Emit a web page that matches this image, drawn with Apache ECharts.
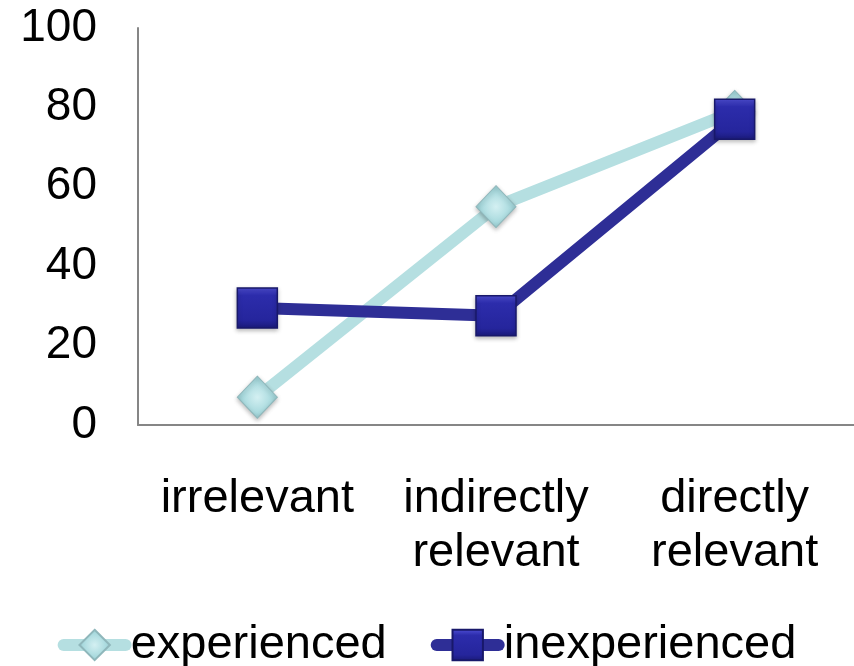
<!DOCTYPE html>
<html>
<head>
<meta charset="utf-8">
<script src="https://cdn.jsdelivr.net/npm/echarts@6/dist/echarts.min.js"></script>
<style>
  html, body { margin: 0; padding: 0; background: #ffffff; }
  #chart { width: 854px; height: 666px; }
</style>
</head>
<body>
<div id="chart"></div>
<script>
// Share of items rated by relevance, by experience level
const categories = ['irrelevant', 'indirectly\nrelevant', 'directly\nrelevant'];
const yTicks = [0, 20, 40, 60, 80, 100];
const experienced = [7, 55, 79];
const inexperienced = [29.5, 27.5, 77];

const FONT = '"Liberation Sans", Arial, sans-serif';

const diamondFill = {
  type: 'radial', x: 0.5, y: 0.5, r: 0.6,
  colorStops: [
    { offset: 0, color: '#d4f0f2' },
    { offset: 0.6, color: '#a9dade' },
    { offset: 1, color: '#86bcc1' }
  ]
};
const squareFill = {
  type: 'linear', x: 0, y: 0, x2: 0, y2: 1,
  colorStops: [
    { offset: 0, color: '#5050d8' },
    { offset: 0.2, color: '#2c2cab' },
    { offset: 0.8, color: '#25259c' },
    { offset: 1, color: '#1a1a78' }
  ]
};

const chart = echarts.init(document.getElementById('chart'), null, { renderer: 'canvas' });
chart.setOption({
  backgroundColor: '#ffffff',
  animation: false,
  grid: { left: 138, right: 0, top: 28, bottom: 241, containLabel: false },
  legend: {
    top: 615,
    left: 'center',
    itemWidth: 62,
    itemHeight: 38,
    itemGap: 44,
    lineStyle: { width: 12, cap: 'round' },
    textStyle: { fontFamily: FONT, fontSize: 47, color: '#000000', lineHeight: 50, padding: [0, 0, 0, 0] },
    data: ['experienced', 'inexperienced']
  },
  xAxis: {
    type: 'category',
    data: categories,
    boundaryGap: true,
    axisLine: { lineStyle: { color: '#868686', width: 2 } },
    axisTick: { show: false },
    axisLabel: { fontFamily: FONT, fontSize: 47, color: '#000000', lineHeight: 54, margin: 47, interval: 0 },
    splitLine: { show: false }
  },
  yAxis: {
    type: 'value',
    min: yTicks[0],
    max: yTicks[yTicks.length - 1],
    interval: yTicks[1] - yTicks[0],
    axisLine: { show: true, lineStyle: { color: '#868686', width: 2 } },
    axisTick: { show: false },
    axisLabel: { fontFamily: FONT, fontSize: 46, color: '#000000', margin: 41, lineHeight: 46, padding: [8, 0, 0, 0] },
    splitLine: { show: false }
  },
  series: [
    {
      name: 'experienced',
      type: 'line',
      data: experienced,
      symbol: 'diamond',
      symbolSize: [40, 42],
      lineStyle: { color: '#b5dfe1', width: 12 },
      itemStyle: {
        color: diamondFill,
        borderColor: '#8fb7bb',
        borderWidth: 1,
        shadowColor: 'rgba(0,0,0,0.25)',
        shadowBlur: 4,
        shadowOffsetY: 2
      },
      z: 2
    },
    {
      name: 'inexperienced',
      type: 'line',
      data: inexperienced,
      symbol: 'rect',
      symbolSize: 40,
      lineStyle: { color: '#2e2e96', width: 12 },
      itemStyle: {
        color: squareFill,
        borderColor: '#18186a',
        borderWidth: 1.5,
        shadowColor: 'rgba(0,0,0,0.25)',
        shadowBlur: 4,
        shadowOffsetY: 2
      },
      z: 3
    }
  ]
});
</script>
</body>
</html>
